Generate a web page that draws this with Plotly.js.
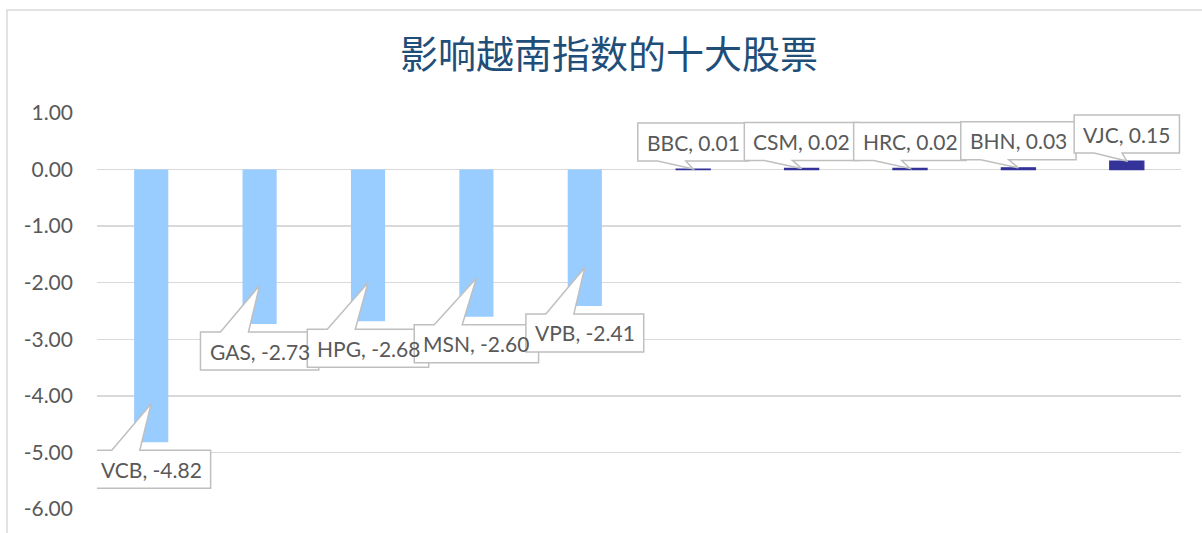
<!DOCTYPE html>
<html>
<head>
<meta charset="utf-8">
<script src="https://cdn.plot.ly/plotly-3.0.1.min.js"></script>
<style>html,body{margin:0;padding:0;background:#fff;}#chart{width:1202px;height:533px;}</style>
</head>
<body>
<div id="chart"></div>
<script>
// ---- data ----
const categories = ["VCB", "GAS", "HPG", "MSN", "VPB", "BBC", "CSM", "HRC", "BHN", "VJC"];
const values = [-4.82, -2.73, -2.68, -2.60, -2.41, 0.01, 0.02, 0.02, 0.03, 0.15];
const yTickVals = [1, 0, -1, -2, -3, -4, -5, -6];
const yTickText = ["1.00", "0.00", "-1.00", "-2.00", "-3.00", "-4.00", "-5.00", "-6.00"];
const chartTitle = "影响越南指数的十大股票";

// ---- layout constants ----
const W = 1202, H = 533;
const M = {l: 97, r: 21, t: 113, b: 24};
const plotW = W - M.l - M.r, plotH = H - M.t - M.b;
const xRange = [-0.5, categories.length - 0.5];
const yRange = [-6, 1];
const pxX = plotW / (xRange[1] - xRange[0]);
const pxY = plotH / (yRange[1] - yRange[0]);
const labelFont = 'Lato';
const labelSize = 21;

const xIdx = categories.map((_, i) => i);
const labels = categories.map((c, i) => c + ", " + values[i].toFixed(2));

const cv = document.createElement('canvas').getContext('2d');
cv.font = labelSize + 'px ' + labelFont;

const shapes = [];
const annotations = [];
const boxH = 38, gap = 8, pad = 9;
labels.forEach((txt, i) => {
  const v = values[i];
  const tw = cv.measureText(txt).width;
  const bw = tw + 2 * pad;
  const cx = xIdx[i];
  const xl = cx - (bw / 2) / pxX, xr = cx + (bw / 2) / pxX;
  const b1 = xl + 20 / pxX, b2 = xl + 48 / pxX;
  let path, cyShift;
  if (v < 0) {
    const top = v - gap / pxY, bot = top - boxH / pxY;
    const tipY = v + 38.5 / pxY;
    path = `M ${xl} ${top} L ${b1} ${top} L ${cx} ${tipY} L ${b2} ${top} L ${xr} ${top} L ${xr} ${bot} L ${xl} ${bot} Z`;
    cyShift = -(gap + boxH / 2);
  } else {
    const bot = v + gap / pxY, top = bot + boxH / pxY;
    path = `M ${xl} ${top} L ${xr} ${top} L ${xr} ${bot} L ${b2} ${bot} L ${cx} ${v} L ${b1} ${bot} L ${xl} ${bot} Z`;
    cyShift = gap + boxH / 2;
  }
  shapes.push({type: 'path', path: path, xref: 'x', yref: 'y', layer: 'above',
    fillcolor: '#ffffff', line: {color: '#bfbfbf', width: 1.5}});
  annotations.push({x: cx, y: v, xref: 'x', yref: 'y', yshift: cyShift, text: txt,
    showarrow: false, xanchor: 'center', yanchor: 'middle',
    font: {family: labelFont, size: labelSize, color: '#595959'}});
});

// outer chart border (top & left visible)
shapes.push({type: 'rect', xref: 'paper', yref: 'paper',
  x0: (7 - M.l) / plotW, x1: (W + 10 - M.l) / plotW,
  y0: (M.t + plotH - (H + 10)) / plotH, y1: (M.t + plotH - 10) / plotH,
  line: {color: '#d9d9d9', width: 1.5}, fillcolor: 'rgba(0,0,0,0)', layer: 'below'});

const barColors = values.map(v => v < 0 ? '#99CCFF' : '#333399');
const trace = {
  type: 'bar',
  x: xIdx,
  y: values,
  marker: {color: barColors, line: {color: barColors, width: values.map(v => v < 0 ? 0 : 1.2)}},
  hoverinfo: 'none',
  cliponaxis: false
};

const layout = {
  width: W, height: H,
  margin: M,
  paper_bgcolor: '#ffffff', plot_bgcolor: '#ffffff',
  showlegend: false,
  bargap: 0.685,
  title: {text: chartTitle, x: 609 / W, xanchor: 'center', y: 1 - 55 / H, yanchor: 'middle',
    font: {family: 'Noto Sans CJK SC', size: 38, color: '#1F4E79'}},
  xaxis: {range: xRange, showticklabels: false, showgrid: false, zeroline: false, showline: false, ticks: '', fixedrange: true},
  yaxis: {range: yRange, tickvals: yTickVals, ticktext: yTickText, showgrid: true, gridcolor: '#d9d9d9', gridwidth: 1.3,
    zeroline: false, showline: false, ticks: '', ticklabelstandoff: 23,
    tickfont: {family: labelFont, size: labelSize, color: '#595959'}, fixedrange: true},
  shapes: shapes,
  annotations: annotations
};

Plotly.newPlot('chart', [trace], layout, {displayModeBar: false, staticPlot: true});
</script>
</body>
</html>
